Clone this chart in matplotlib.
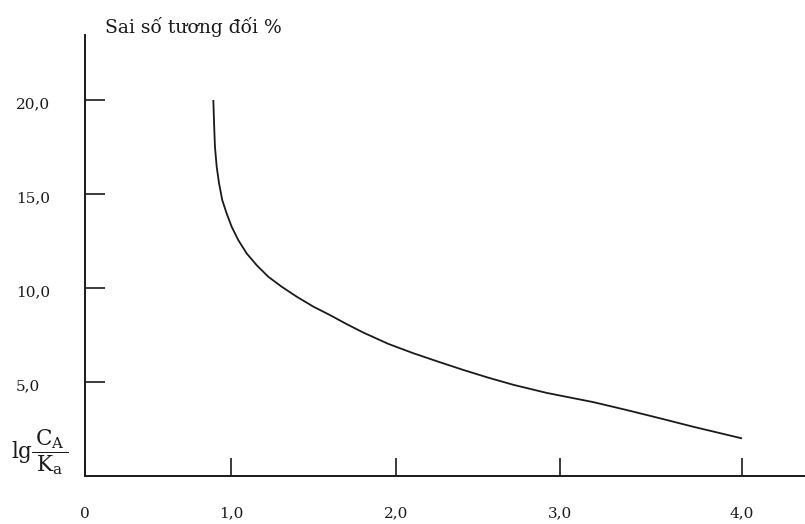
import numpy as np
import matplotlib
matplotlib.use("Agg")
import matplotlib.pyplot as plt
from matplotlib.transforms import blended_transform_factory, offset_copy

plt.rcParams["font.family"] = ["DejaVu Serif"]
plt.rcParams["mathtext.fontset"] = "dejavuserif"

# Curve: relative error (%) versus lg(C_A/K_a)
lg_ratio = [0.879, 0.884, 0.890, 0.902, 0.918, 0.940, 0.970, 1.004, 1.044,
            1.095, 1.155, 1.226, 1.307, 1.398, 1.499, 1.600, 1.701, 1.802,
            1.953, 2.106, 2.258, 2.411, 2.563, 2.716, 2.919, 3.183,
            3.366, 3.549, 3.732, 4.0]
rel_error = [20.0, 18.76, 17.52, 16.45, 15.57, 14.68, 13.97, 13.26, 12.55,
             11.84, 11.22, 10.60, 10.07, 9.54, 9.01, 8.56, 8.08, 7.63,
             7.03, 6.53, 6.08, 5.64, 5.23, 4.85, 4.42, 3.93,
             3.51, 3.07, 2.62, 2.0]

x_ticks = [0, 1, 2, 3, 4]
x_tick_labels = ["0", "1,0", "2,0", "3,0", "4,0"]
y_ticks = [5, 10, 15, 20]
y_tick_labels = ["5,0", "10,0", "15,0", "20,0"]
y_title = "Sai số tương đối %"

# The hand-drawn x axis has unevenly spaced graduations; map them piecewise.
_x_vals = np.array([-10.0, 0, 1, 2, 3, 4, 14.0])
_x_pos = np.array([-1460.0, 0, 146, 311, 475, 657, 2477.0])


def _fwd(v):
    return np.interp(v, _x_vals, _x_pos)


def _inv(p):
    return np.interp(p, _x_pos, _x_vals)


W, H = 805, 524
fig = plt.figure(figsize=(W / 100, H / 100), dpi=100)
ax = fig.add_axes([85 / W, (H - 476) / H, (805 - 85) / W, (476 - 35) / H])
ax.set_xscale("function", functions=(_fwd, _inv))

ax.plot(lg_ratio, rel_error, color="#1a1a1a", lw=1.3,
        solid_joinstyle="round", solid_capstyle="butt")

ax.set_xlim(0, 4.346)
ax.set_ylim(0, 23.46)

for s in ("top", "right"):
    ax.spines[s].set_visible(False)
for s in ("left", "bottom"):
    ax.spines[s].set_linewidth(1.4)
    ax.spines[s].set_color("#1a1a1a")

ax.set_xticks(x_ticks)
ax.set_xticklabels(x_tick_labels, fontsize=11, color="#1a1a1a")
ax.set_yticks(y_ticks)
ax.set_yticklabels([])
ax.tick_params(axis="x", direction="in", length=13, width=1.2, pad=22,
               color="#1a1a1a")
ax.tick_params(axis="y", direction="in", length=14.4, width=1.2,
               color="#1a1a1a")
ax.minorticks_off()

# y tick labels sit left-aligned near the figure edge, slightly below their ticks
ytr = offset_copy(blended_transform_factory(fig.transFigure, ax.transData),
                  fig=fig, x=0, y=-4, units="dots")
for v, lab in zip(y_ticks, y_tick_labels):
    ax.text(16 / W, v, lab, transform=ytr, ha="left", va="center",
            fontsize=11, color="#1a1a1a")

fig.text(105 / W, (H - 27) / H, y_title, ha="left", va="center",
         fontsize=13.5, color="#1a1a1a")
fig.text(11 / W, (H - 452) / H,
         r"$\mathrm{lg}\dfrac{\,\mathrm{C_A}\,}{\,\mathrm{K_a}\,}$",
         ha="left", va="center", fontsize=15.5, color="#1a1a1a")

fig.savefig("out.png", dpi=100)
